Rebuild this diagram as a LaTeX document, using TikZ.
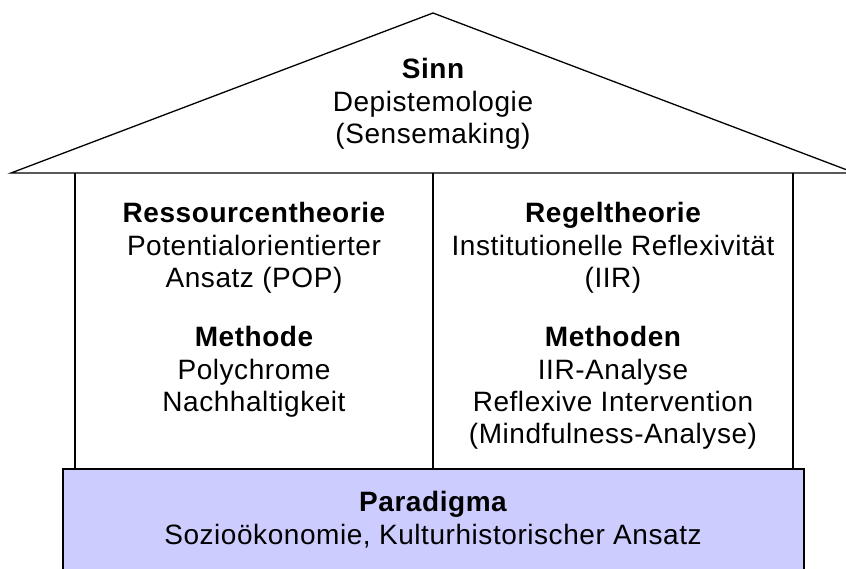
\documentclass[tikz,border=0pt]{standalone}
\usepackage{fontspec}
\setmainfont[LetterSpace=2]{Liberation Sans}
\definecolor{basefill}{HTML}{CCCCFF}
\begin{document}
\begin{tikzpicture}[x=1pt,y=-1pt,
  wall/.style={line width=1.3pt, draw=black},
  txt/.style={inner sep=0pt, anchor=base, font=\fontsize{28}{32}\selectfont},
  head/.style={txt, font=\fontsize{28}{32}\selectfont\bfseries}]
\useasboundingbox (0,0) rectangle (846,568);
\clip (0,0) rectangle (846,568);
% roof
\coordinate (rl) at (11,173);
\coordinate (rt) at (433,13);
\coordinate (rr) at (855,173);
\draw[wall, line join=miter] (rl) -- (rt) -- (rr) -- cycle;
% walls
\coordinate (wl) at (75,173);
\coordinate (wlb) at (75,469);
\coordinate (wm) at (433,173);
\coordinate (wmb) at (433,469);
\coordinate (wr) at (793,173);
\coordinate (wrb) at (793,469);
\draw[wall] (wl) -- (wlb);
\draw[wall] (wm) -- (wmb);
\draw[wall] (wr) -- (wrb);
% base
\draw[wall, fill=basefill] (63,469) rectangle (804,590);
% roof text
\node[head] (sinn) at (433,78) {Sinn};
\node[txt] (sinn2) at (433,111) {Depistemologie};
\node[txt] (sinn3) at (433,143) {(Sensemaking)};
% left
\node[head] (res) at (254,222) {Ressourcentheorie};
\node[txt] (res2) at (254,255) {Potentialorientierter};
\node[txt] (res3) at (254,287) {Ansatz (POP)};
\node[head] (meth) at (254,346) {Methode};
\node[txt] (meth2) at (254,379) {Polychrome};
\node[txt] (meth3) at (254,411) {Nachhaltigkeit};
% right
\node[head] (reg) at (613,222) {Regeltheorie};
\node[txt] (reg2) at (613,255) {Institutionelle Reflexivität};
\node[txt] (reg3) at (613,287) {(IIR)};
\node[head] (meths) at (613,346) {Methoden};
\node[txt] (meths2) at (613,379) {IIR-Analyse};
\node[txt] (meths3) at (613,411) {Reflexive Intervention};
\node[txt] (meths4) at (613,443) {(Mindfulness-Analyse)};
% base
\node[head] (par) at (433,511) {Paradigma};
\node[txt] (par2) at (433,544) {Sozioökonomie, Kulturhistorischer Ansatz};
\end{tikzpicture}
\end{document}
